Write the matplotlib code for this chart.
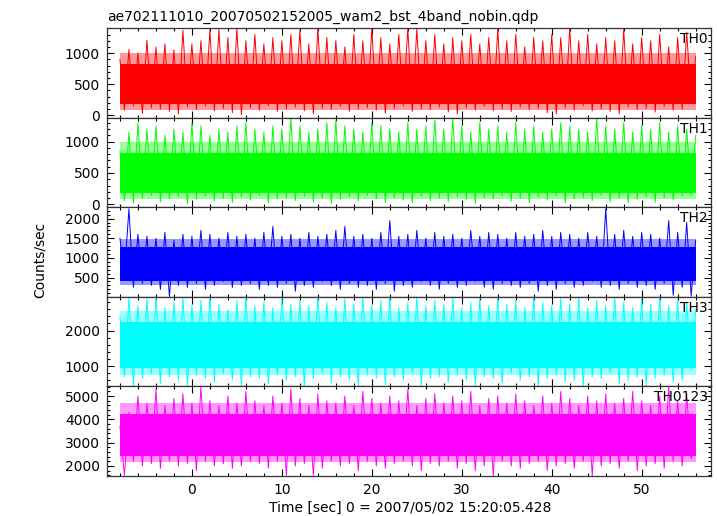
import matplotlib
matplotlib.use("Agg")
import matplotlib.pyplot as plt
import numpy as np
from matplotlib.ticker import MultipleLocator

plt.rcParams['font.family'] = ['DejaVu Sans']

# curvas de luz: picos (t = -8 .. 56 s) e vales (t = -7.5 .. 55.5 s)
th0_hi = [900, 1060, 1000, 1210, 1100, 1150, 1050, 1370, 1150, 1200, 1380, 1380, 1250, 1400, 1200, 1300,
          1150, 1250, 1200, 1300, 1370, 1150, 1400, 1250, 1200, 1100, 1300, 1200, 1390, 1250, 1150, 1300,
          1400, 1390, 1200, 1300, 1150, 1250, 1200, 1300, 1150, 1250, 1390, 1200, 1300, 1100, 1250, 1200,
          1300, 1250, 1400, 1200, 1300, 1150, 1250, 1200, 1380, 1150, 1250, 1200, 1300, 1100, 1250, 1340, 950]
th0_lo = [80, 150, 30, 120, 100, 60, 20, 130, 90, 150, 70, 110, 40, 10, 120, 80, 150, 60, 100, 130, 70, 20,
          110, 90, 140, 60, 100, 120, 80, 30, 110, 150, 60, 100, 90, 130, 50, 20, 120, 80, 140, 70, 100, 60,
          130, 90, 110, 40, 20, 120, 80, 150, 70, 100, 60, 20, 130, 90, 110, 50, 140, 80, 100, 200]

th1_hi = [850, 1150, 1300, 1200, 1250, 1100, 1200, 1150, 1300, 1250, 1100, 1200, 1150, 1250, 1300, 1200,
          1150, 1250, 1200, 1380, 1250, 1150, 1200, 1300, 1340, 1250, 1200, 1150, 1300, 1250, 1200, 1150,
          1300, 1200, 1250, 1340, 1200, 1380, 1250, 1150, 1300, 1200, 1250, 1150, 1300, 1200, 1250, 1150,
          1200, 1300, 1250, 1200, 1150, 1380, 1250, 1200, 1300, 1150, 1250, 1200, 1300, 1150, 1250, 1200, 1100]
th1_lo = [60, 20, 100, 140, 40, 90, 120, 10, 80, 130, 50, 100, 30, 120, 70, 140, 20, 90, 110, 60, 130, 40,
          100, 10, 80, 120, 50, 140, 90, 30, 110, 70, 20, 130, 60, 100, 40, 120, 80, 10, 110, 90, 140, 50,
          100, 30, 120, 70, 130, 20, 90, 110, 60, 140, 40, 100, 20, 80, 120, 30, 110, 70, 130, 150]

th2_hi = [1500, 2250, 1600, 1550, 1500, 1650, 1450, 1600, 1550, 1700, 1600, 1500, 1650, 1550, 1600, 1500,
          1650, 1800, 1550, 1600, 1500, 1650, 1550, 1600, 1700, 1800, 1550, 1600, 1500, 1650, 1950, 1550,
          1600, 1700, 1500, 1650, 1550, 1600, 1500, 1700, 1550, 1650, 1600, 1500, 1650, 1550, 1600, 1700,
          1550, 1650, 1600, 1500, 1650, 1550, 2250, 1600, 1700, 1550, 1650, 1600, 1500, 1950, 1650, 1900, 1450]
th2_lo = [550, 250, 350, 300, 200, 20, 300, 250, 350, 200, 300, 400, 250, 300, 350, 200, 300, 250, 350, 150,
          300, 250, 400, 300, 200, 350, 250, 300, 200, 350, 150, 300, 250, 400, 300, 200, 350, 250, 300, 400,
          250, 200, 350, 300, 250, 350, 150, 300, 200, 350, 250, 300, 400, 250, 300, 200, 350, 250, 300, 200,
          350, 50, 250, 30]

th3_hi = [2400, 2950, 2700, 2900, 2950, 2650, 2800, 2950, 2700, 2850, 2950, 2750, 2600, 2850, 2950, 2700,
          2800, 2650, 2950, 2750, 2850, 2700, 2950, 2800, 2650, 2900, 2750, 2950, 2700, 2850, 2950, 2650,
          2800, 2950, 2700, 2850, 2750, 2950, 2650, 2800, 2900, 2700, 2950, 2750, 2850, 2650, 2950, 2800,
          2700, 2900, 2750, 2950, 2650, 2850, 2700, 2950, 2800, 2650, 2900, 2750, 2950, 2700, 2850, 2800, 2600]
th3_lo = [700, 450, 650, 800, 500, 700, 600, 450, 750, 650, 550, 800, 600, 450, 700, 650, 500, 750, 600, 700,
          450, 650, 800, 550, 700, 600, 450, 750, 650, 500, 700, 600, 800, 450, 650, 700, 550, 750, 600, 450,
          700, 650, 500, 800, 600, 700, 450, 650, 750, 550, 600, 450, 700, 650, 800, 500, 600, 700, 450, 650,
          750, 550, 600, 900]

th0123_hi = [3700, 4300, 5000, 4700, 5300, 4600, 4900, 5100, 4700, 5400, 4800, 4600, 5000, 4700, 5200, 4800,
             4600, 5000, 4700, 5300, 4900, 4600, 5100, 4800, 4700, 5000, 4600, 5200, 4900, 4700, 5000, 4800,
             5300, 4600, 4900, 5100, 4700, 5000, 4800, 5200, 4600, 4900, 5000, 4700, 5100, 4800, 4600, 5000,
             4700, 5200, 4900, 4600, 5000, 4800, 5100, 4700, 4900, 5200, 4800, 4600, 5000, 5400, 4800, 5100, 3800]
th0123_lo = [1600, 2200, 2000, 2100, 1900, 2200, 2000, 2100, 1800, 2200, 2000, 2100, 1900, 2000, 2200, 2100,
             1900, 2200, 1600, 2000, 2100, 1600, 1900, 2200, 2000, 2100, 1800, 2200, 2000, 1900, 2100, 2200,
             2000, 1800, 2100, 2000, 2200, 1900, 2100, 1800, 2000, 1580, 2200, 2000, 1900, 2100, 2200, 1800,
             2000, 2100, 1900, 2200, 1580, 2000, 2100, 1900, 2200, 1800, 2000, 2100, 1900, 2200, 2000, 2300]

# faixa densa (nucleo) e franja de cada banda
nucleo_lo = [180, 180, 420, 950, 2450]
nucleo_hi = [820, 820, 1280, 2250, 4250]
franja_lo = [90, 90, 300, 750, 2150]
franja_hi = [1000, 1000, 1480, 2550, 4700]

nomes = ['TH0', 'TH1', 'TH2', 'TH3', 'TH0123']
cores = ['#ff0000', '#00ff00', '#0000ff', '#00ffff', '#ff00ff']
series = [(th0_hi, th0_lo), (th1_hi, th1_lo), (th2_hi, th2_lo), (th3_hi, th3_lo), (th0123_hi, th0123_lo)]
limites = [(-40, 1405), (-45, 1380), (10, 2290), (430, 2950), (1570, 5415)]
ticks_maior = [500, 500, 500, 1000, 1000]
ticks_menor = [100, 100, 100, 200, 200]

fig = plt.figure(figsize=(7.17, 5.16), dpi=100)
gs = fig.add_gridspec(5, 1, left=0.1492, right=0.9916, top=0.9457, bottom=0.0775, hspace=0)

for i in range(5):
    ax = fig.add_subplot(gs[i])
    hi, lo = series[i]
    t = np.concatenate([-8 + np.arange(len(hi)), -7.5 + np.arange(len(lo))])
    y = np.concatenate([hi, lo])
    ordem = np.argsort(t)
    t, y = t[ordem], y[ordem]
    ax.fill_between([t[0], t[-1]], franja_lo[i], franja_hi[i], color=cores[i], alpha=0.4, lw=0)
    ax.fill_between([t[0], t[-1]], nucleo_lo[i], nucleo_hi[i], color=cores[i], lw=0)
    ax.plot(t, y, color=cores[i], lw=0.7)
    ax.set_xlim(-9.44, 57.7)
    ax.set_ylim(*limites[i])
    ax.xaxis.set_major_locator(MultipleLocator(10))
    ax.xaxis.set_minor_locator(MultipleLocator(2))
    ax.yaxis.set_major_locator(MultipleLocator(ticks_maior[i]))
    ax.yaxis.set_minor_locator(MultipleLocator(ticks_menor[i]))
    ax.tick_params(which='both', direction='in', top=True, right=True, labelsize=10, pad=5)
    ax.tick_params(which='major', length=5, width=0.8)
    ax.tick_params(which='minor', length=2.5, width=0.8)
    for s in ax.spines.values():
        s.set_linewidth(0.9)
        s.set_color('#333333')
    if i < 4:
        ax.tick_params(labelbottom=False)
    ax.text(0.995, 0.955, nomes[i], transform=ax.transAxes, ha='right', va='top', fontsize=10)
    if i == 0:
        ax.set_title('ae702111010_20070502152005_wam2_bst_4band_nobin.qdp', loc='left', fontsize=10, pad=5)

fig.text(0.056, 1 - 260 / 516, 'Counts/sec', rotation=90, ha='center', va='center', fontsize=10)
fig.text(410 / 717, 1 - 508 / 516, 'Time [sec] 0 = 2007/05/02 15:20:05.428', ha='center', va='center', fontsize=10)

fig.savefig('out.png', dpi=100)
